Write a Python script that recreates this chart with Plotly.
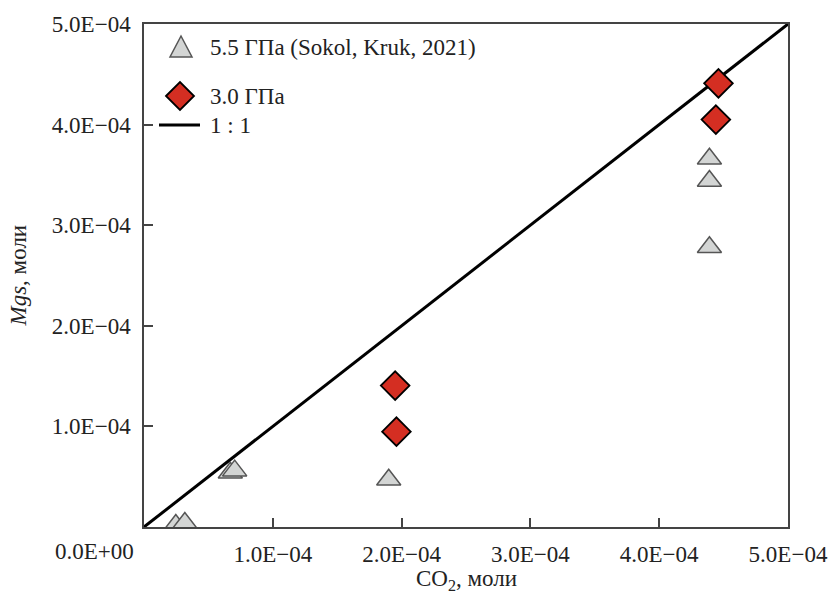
import plotly.graph_objects as go

# 5.5 GPa (Sokol, Kruk, 2021)
tri_x = [2.47e-5, 3.17e-5, 6.70e-5, 7.04e-5, 1.90e-4, 4.39e-4, 4.39e-4, 4.39e-4]
tri_y = [0.2e-5, 0.4e-5, 5.4e-5, 5.6e-5, 4.7e-5, 3.66e-4, 3.44e-4, 2.78e-4]
# 3.0 GPa
dia_x = [1.95e-4, 1.96e-4, 4.46e-4, 4.44e-4]
dia_y = [1.406e-4, 0.948e-4, 4.41e-4, 4.05e-4]
# 1:1 line
line_x = [0.0, 5e-4]
line_y = [0.0, 5e-4]

tick_vals = [1e-4, 2e-4, 3e-4, 4e-4, 5e-4]
tick_text = ["1.0E\u221204", "2.0E\u221204", "3.0E\u221204", "4.0E\u221204", "5.0E\u221204"]
zero_label = "0.0E+00"

FONT = "Liberation Serif, Times New Roman, serif"
FS = 23

fig = go.Figure()
fig.add_trace(go.Scatter(x=line_x, y=line_y, mode="lines",
                         line=dict(color="black", width=3), showlegend=False))
fig.add_trace(go.Scatter(x=tri_x, y=tri_y, mode="markers",
                         marker=dict(symbol="triangle-up", size=21, color="#d3d5d4",
                                     line=dict(color="#555555", width=1.5)),
                         showlegend=False))
fig.add_trace(go.Scatter(x=dia_x, y=dia_y, mode="markers",
                         marker=dict(symbol="diamond", size=22, color="#d42e22",
                                     line=dict(color="black", width=1.8)),
                         showlegend=False))

axis_common = dict(range=[0, 5e-4], tickvals=tick_vals, ticktext=tick_text,
                   ticks="inside", ticklen=9, tickwidth=1.5, tickcolor="#444",
                   showline=True, linecolor="#444", linewidth=1.5, mirror=True,
                   showgrid=False, zeroline=False,
                   tickfont=dict(family=FONT, size=FS, color="#222"))
fig.update_xaxes(**axis_common, ticklabelstandoff=6)
fig.update_yaxes(**axis_common, ticklabelstandoff=7)

annotations = [
    dict(text=zero_label, xref="paper", yref="paper", x=0, y=0, xanchor="right",
         yanchor="middle", xshift=-8, yshift=-24, showarrow=False,
         font=dict(family=FONT, size=FS, color="#222")),
    dict(text="CO<sub>2</sub>, моли", xref="paper", yref="paper", x=0.5, y=0,
         xanchor="center", yanchor="middle", yshift=-53, showarrow=False,
         font=dict(family=FONT, size=FS, color="#222")),
    dict(text="<i>Mgs</i>, моли", xref="paper", yref="paper", x=0, y=0.5,
         xanchor="center", yanchor="middle", xshift=-126, textangle=-90, showarrow=False,
         font=dict(family=FONT, size=FS, color="#222")),
    # legend texts
    dict(text="5.5 ГПа (Sokol, Kruk, 2021)", xref="paper", yref="paper", x=0, y=1,
         xanchor="left", yanchor="middle", xshift=64, yshift=-23, showarrow=False,
         font=dict(family=FONT, size=FS, color="#222")),
    dict(text="3.0 ГПа", xref="paper", yref="paper", x=0, y=1,
         xanchor="left", yanchor="middle", xshift=64, yshift=-72, showarrow=False,
         font=dict(family=FONT, size=FS, color="#222")),
    dict(text="1 : 1", xref="paper", yref="paper", x=0, y=1,
         xanchor="left", yanchor="middle", xshift=64, yshift=-101, showarrow=False,
         font=dict(family=FONT, size=FS, color="#222")),
]

shapes = [
    # legend triangle
    dict(type="path", xref="paper", yref="paper", xsizemode="pixel", ysizemode="pixel",
         xanchor=0, yanchor=1, path="M 26 -33 L 48 -33 L 37 -12 Z",
         fillcolor="#d3d5d4", line=dict(color="#555555", width=1.5)),
    # legend diamond
    dict(type="path", xref="paper", yref="paper", xsizemode="pixel", ysizemode="pixel",
         xanchor=0, yanchor=1, path="M 22 -72 L 36 -58 L 50 -72 L 36 -86 Z",
         fillcolor="#d42e22", line=dict(color="black", width=1.8)),
    # legend line
    dict(type="line", xref="paper", yref="paper", xsizemode="pixel", ysizemode="pixel",
         xanchor=0, yanchor=1, x0=15, x1=56, y0=-101, y1=-101,
         line=dict(color="black", width=3)),
]

fig.update_layout(width=840, height=598, margin=dict(l=144, r=50, t=24, b=71),
                  plot_bgcolor="white", paper_bgcolor="white",
                  annotations=annotations, shapes=shapes, showlegend=False)

fig.write_html("out.html")
